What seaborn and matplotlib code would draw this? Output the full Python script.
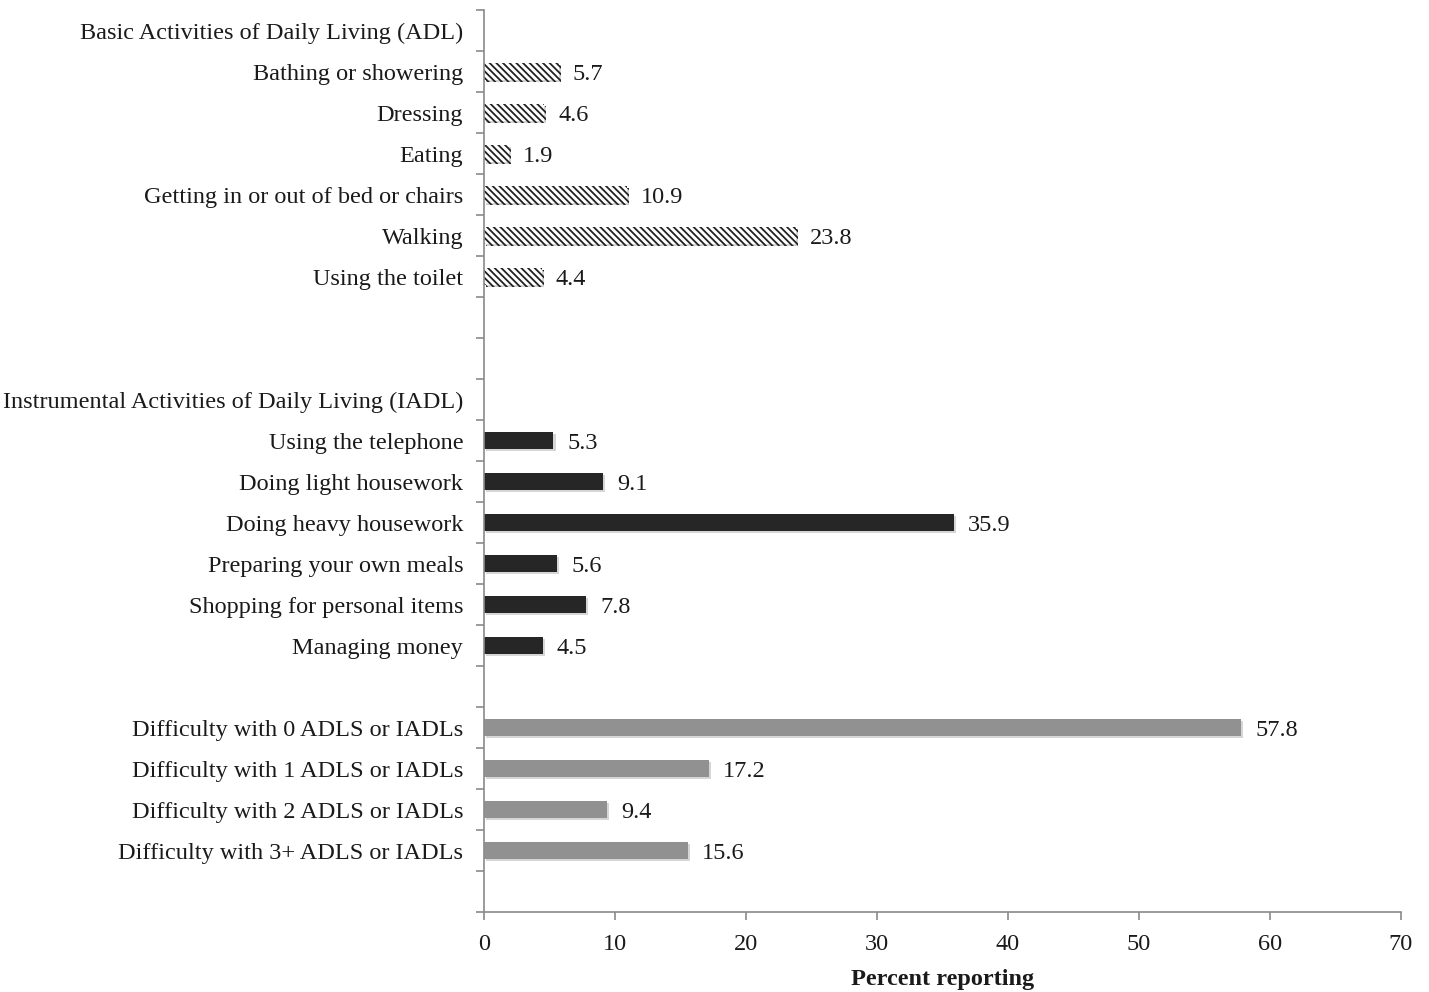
import matplotlib
matplotlib.use('Agg')
from matplotlib import pyplot as plt
import matplotlib.patheffects as pe
import numpy as np
import pandas as pd
import seaborn as sns

adl_labels = ['Bathing or showering', 'Dressing', 'Eating',
              'Getting in or out of bed or chairs', 'Walking', 'Using the toilet']
adl_values = [5.7, 4.6, 1.9, 10.9, 23.8, 4.4]

iadl_labels = ['Using the telephone', 'Doing light housework', 'Doing heavy housework',
               'Preparing your own meals', 'Shopping for personal items', 'Managing money']
iadl_values = [5.3, 9.1, 35.9, 5.6, 7.8, 4.5]

count_labels = ['Difficulty with 0 ADLS or IADLs', 'Difficulty with 1 ADLS or IADLs',
                'Difficulty with 2 ADLS or IADLs', 'Difficulty with 3+ ADLS or IADLs']
count_values = [57.8, 17.2, 9.4, 15.6]

adl_header = 'Basic Activities of Daily Living (ADL)'
iadl_header = 'Instrumental Activities of Daily Living (IADL)'

df = pd.DataFrame({
    'label': adl_labels + iadl_labels + count_labels,
    'value': adl_values + iadl_values + count_values,
    'group': ['ADL'] * len(adl_labels) + ['IADL'] * len(iadl_labels) + ['Count'] * len(count_labels),
})

# full row order, blank rows get distinct whitespace names
order = [adl_header] + adl_labels + [' ', '  '] + [iadl_header] + iadl_labels + ['   '] + count_labels + ['    ']

sns.set_style('white')
plt.rcParams['font.family'] = ['Liberation Serif', 'DejaVu Serif']
plt.rcParams['hatch.linewidth'] = 1.3
plt.rcParams['hatch.color'] = '#222222'

fs = 17.5
fig, ax = plt.subplots(figsize=(14.29, 9.92), dpi=100)
fig.subplots_adjust(left=0.3387, right=0.9804, top=0.9899, bottom=0.0806)

palette = {'ADL': 'white', 'IADL': '#262626', 'Count': '#919191'}
ax = sns.barplot(data=df, x='value', y='label', hue='group', order=order,
                 hue_order=['ADL', 'IADL', 'Count'], palette=palette,
                 orient='h', width=0.41, dodge=False, legend=False, ax=ax,
                 saturation=1)

shadow = [pe.SimplePatchShadow(offset=(1.5, -1.5), shadow_rgbFace='#bbbbbb', alpha=0.6), pe.Normal()]
for i, cont in enumerate(ax.containers):
    for bar in cont:
        bar.set_linewidth(0)
        bar.set_path_effects(shadow)
        if i == 0:
            bar.set_hatch('\\' * 5)
            bar.set_edgecolor('#222222')
    anns = ax.bar_label(cont, fmt='%.1f', padding=10, fontsize=fs, color='#1a1a1a')
    for a in anns:
        a.xyann = (10, -2)

ax.set_xlim(0, 70)
ax.set_ylim(len(order) - 0.5, -0.5)
ax.set_xticks(np.arange(0, 71, 10))
ax.set_yticks(np.arange(len(order)))
ax.set_yticklabels(order)
ax.set_yticks(np.arange(-0.5, len(order), 1), minor=True)
ax.tick_params(axis='y', which='major', left=True, length=0, pad=15, labelsize=fs, labelcolor='#1a1a1a')
ax.tick_params(axis='y', which='minor', left=True, length=6, width=1.2, color='#8a8a8a', direction='out')
ax.tick_params(axis='x', which='major', bottom=True, length=6, width=1.2, color='#8a8a8a', direction='out',
               labelsize=fs, labelcolor='#1a1a1a', pad=10)

for side in ['top', 'right']:
    ax.spines[side].set_visible(False)
for side in ['left', 'bottom']:
    ax.spines[side].set_color('#8a8a8a')
    ax.spines[side].set_linewidth(1.2)

ax.set_ylabel('')
ax.set_xlabel('Percent reporting', fontsize=fs, fontweight='bold', color='#1a1a1a', labelpad=10)
ax.grid(False)

plt.savefig('out.png', dpi=100)
